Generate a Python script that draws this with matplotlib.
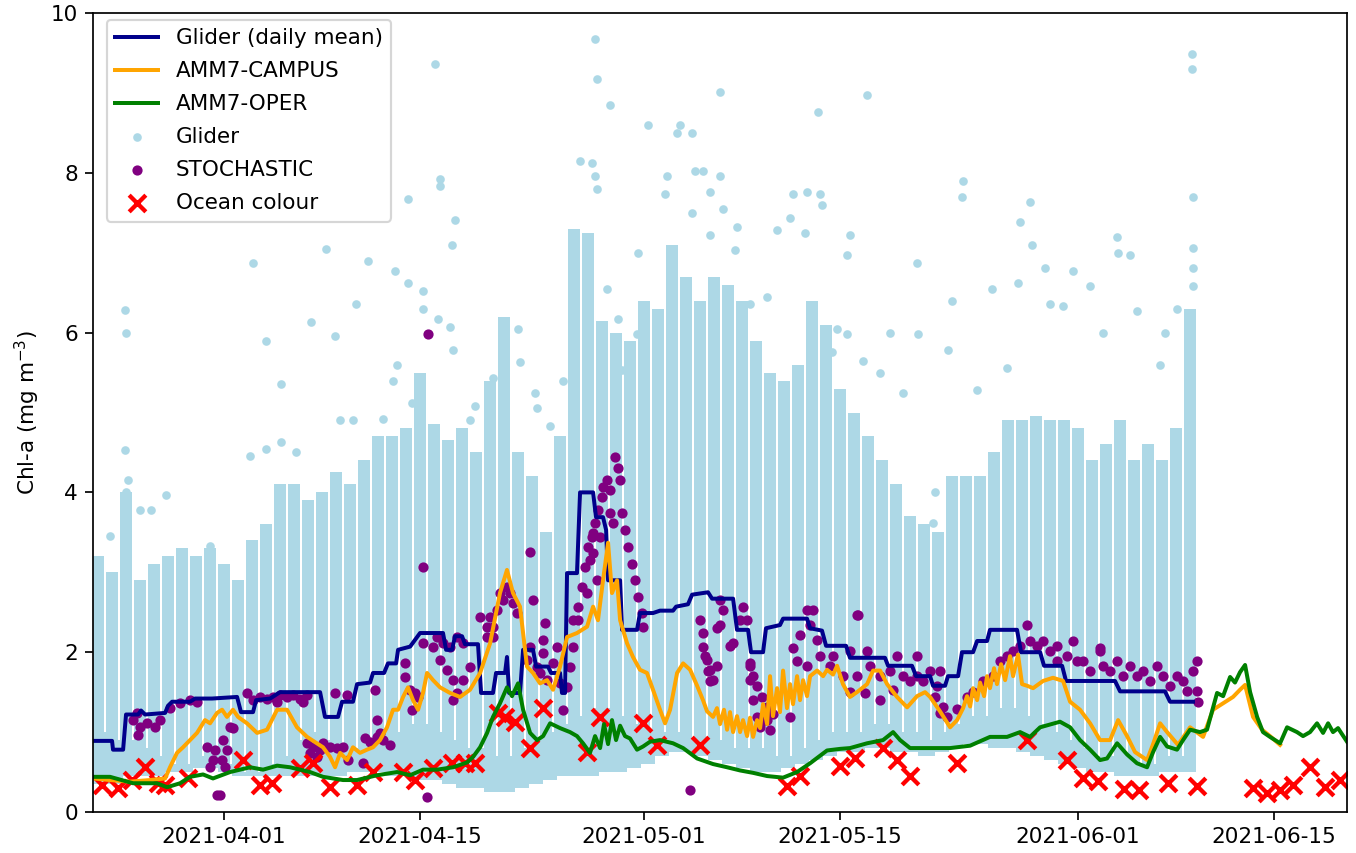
import numpy as np
import pandas as pd
import matplotlib
matplotlib.use("Agg")
import matplotlib.pyplot as plt
import matplotlib.dates as mdates

# all times are days relative to 2021-04-01 00:00
base = mdates.date2num(pd.Timestamp("2021-04-01"))

# --- glider profiles: one night column per day (2021-03-23 .. 2021-06-09)
glider_days = pd.date_range("2021-03-23", "2021-06-09", freq="D")
glider_top = [3.2, 3.0, 4.0, 2.9, 3.1, 3.2, 3.3, 3.2, 3.3,
              3.1, 2.9, 3.4, 3.6, 4.1, 4.1, 3.9, 4.0, 4.25, 4.1, 4.4,
              4.7, 4.7, 4.8, 5.5, 4.85, 4.65, 4.8, 4.5, 5.4, 6.2,
              4.5, 4.2, 3.5, 4.7, 7.3, 7.25, 6.15, 6.0, 5.9, 6.4,
              6.3, 7.1, 6.7, 6.4, 6.7, 6.6, 6.4, 5.9, 5.5, 5.4,
              5.6, 6.4, 6.1, 5.3, 5.0, 4.7, 4.4, 4.1, 3.7, 3.6,
              3.5, 4.2, 4.2, 4.2, 4.5, 4.9, 4.9, 4.95, 4.9, 4.9,
              4.8, 4.4, 4.6, 4.9, 4.4, 4.6, 4.4, 4.8, 6.3]
glider_bottom = [0.35, 0.35, 0.45, 0.45, 0.45, 0.5, 0.5, 0.55, 0.55,
                 0.5, 0.45, 0.45, 0.45, 0.45, 0.45, 0.45, 0.45, 0.45, 0.5, 0.5,
                 0.5, 0.45, 0.45, 0.4, 0.4, 0.35, 0.3, 0.3, 0.25, 0.25,
                 0.3, 0.35, 0.4, 0.45, 0.45, 0.45, 0.5, 0.5, 0.55, 0.6,
                 0.7, 0.75, 0.75, 0.7, 0.65, 0.6, 0.55, 0.5, 0.5, 0.55,
                 0.6, 0.65, 0.7, 0.75, 0.75, 0.8, 0.8, 0.75, 0.75, 0.7,
                 0.75, 0.8, 0.85, 0.85, 0.8, 0.8, 0.75, 0.7, 0.65, 0.6,
                 0.55, 0.5, 0.5, 0.45, 0.45, 0.45, 0.5, 0.5, 0.5]
# daytime (quenched) profiles, between the night columns
glider_day_top = [1.0, 0.9, 0.9, 0.8, 0.7, 0.6, 0.6, 0.7, 0.8,
                  0.6, 0.5, 0.5, 0.6, 0.7, 0.9, 1.0, 0.9, 0.8, 0.8, 0.9,
                  1.0, 1.0, 1.1, 1.1, 1.0, 0.9, 0.8, 0.8, 0.7, 0.7,
                  0.8, 0.9, 1.0, 1.1, 1.2, 1.3, 1.3, 1.2, 1.1, 1.0,
                  1.0, 1.0, 0.9, 0.9, 0.9, 0.8, 0.8, 0.8, 0.7, 0.7,
                  0.8, 0.9, 1.0, 1.0, 1.0, 1.1, 1.1, 1.0, 1.0, 0.9,
                  1.0, 1.1, 1.2, 1.2, 1.3, 1.3, 1.2, 1.1, 1.0, 0.9,
                  0.8, 0.7, 0.7, 0.7, 0.6, 0.6, 0.7, 0.7]

# sparse glider samples above the dense columns
glider_pts_t = [-7.07, -7.0, -7.07, -7.0, -6.86, -6.0, -5.21, -4.14, 2.07, 3.0, 4.07, 4.07,
                6.21, 7.29, 7.93, 8.29, 9.21, 9.43, 10.29, 3.0, 5.14, 1.86, -1.0, -8.14,
                15.07, 15.43, 15.43, 13.14, 16.5, 16.29, 12.21, 13.14, 14.21, 14.21, 15.29,
                16.14, 16.36, 12.36, 12.07, 13.43, 11.36, 17.57, 17.93, 19.21, 21.0, 21.14,
                22.21, 22.36, 23.29, 24.21, 25.43, 26.29, 26.5, 26.64, 27.57, 26.5, 26.64,
                27.36, 28.14, 28.43, 29.57, 30.29, 29.5, 32.36, 32.57, 33.43, 35.43, 33.64,
                34.21, 31.5, 31.64, 33.43, 34.71, 35.43, 35.64, 36.64, 34.71, 36.5, 42.43,
                45.93, 39.5, 40.64, 41.64, 42.57, 42.71, 41.5, 40.43, 44.71, 44.5, 49.5,
                49.57, 47.57, 48.5, 46.86, 45.64, 38.79, 37.57, 43.79, 43.43, 44.5, 52.79,
                52.71, 57.57, 57.71, 56.86, 54.86, 56.71, 58.64, 60.64, 61.86, 63.79, 64.71,
                65.21, 63.86, 69.14, 69.14, 69.21, 69.21, 69.21, 69.21, 52.0, 51.71, 50.79,
                50.64, 67.21, 68.07, 62.79, 59.93, 59.0, 55.93, 53.79, 66.86]
glider_pts_v = [6.28, 6.0, 4.53, 4.0, 4.15, 3.78, 3.78, 3.97, 6.87, 5.9, 5.36, 4.63,
                6.13, 7.05, 5.96, 4.9, 4.9, 6.36, 6.9, 4.54, 4.5, 4.45, 3.33, 3.45,
                9.36, 7.92, 7.83, 7.67, 7.41, 7.1, 6.77, 6.62, 6.52, 6.3, 6.17,
                6.07, 5.78, 5.6, 5.4, 5.12, 4.92, 4.9, 5.08, 5.43, 6.05, 5.63,
                5.24, 5.06, 4.83, 5.4, 8.15, 8.12, 9.67, 9.17, 8.85, 7.96, 7.8,
                6.55, 6.17, 5.53, 7.0, 8.6, 5.98, 8.5, 8.6, 8.5, 9.01, 8.02,
                8.02, 7.73, 7.96, 7.5, 7.76, 7.96, 7.55, 7.32, 7.22, 7.03, 8.76,
                8.97, 7.28, 7.73, 7.76, 7.73, 7.6, 7.25, 7.44, 7.22, 6.97, 6.87,
                5.98, 6.0, 5.24, 5.49, 5.65, 6.45, 6.36, 6.05, 5.76, 5.98, 7.9,
                7.7, 7.64, 7.1, 7.38, 6.55, 6.62, 6.81, 6.77, 6.58, 7.2, 6.97,
                6.27, 7.0, 9.49, 9.3, 7.7, 7.06, 6.81, 6.58, 6.4, 5.78, 4.0,
                3.62, 6.0, 6.3, 6.0, 6.33, 6.36, 5.56, 5.28, 5.6]

# --- glider daily mean
mean_t = [-9.36, -8.0, -7.93, -7.21, -7.0, -6.14, -5.93, -5.64, -4.21, -4.0, -3.71, -2.43,
          -2.07, -0.86, 0.93, 1.21, 2.07, 2.29, 3.29, 4.0, 6.86, 7.21, 8.14, 8.43, 9.21,
          9.5, 10.43, 10.64, 11.43, 11.71, 12.29, 12.43, 13.29, 14.0, 15.64, 15.86, 16.29,
          16.5, 17.0, 17.21, 18.14, 18.36, 19.21, 19.43, 20.07, 20.21, 20.36, 21.14, 21.36,
          22.07, 22.29, 23.14, 23.36, 24.0, 24.14, 24.36, 24.5, 25.21, 25.43, 26.36, 26.57,
          27.07, 27.29, 27.43, 28.29, 28.43, 29.5, 29.71, 30.64, 31.14, 32.07, 32.29, 33.14,
          33.43, 34.57, 34.86, 36.36, 36.64, 37.43, 37.64, 38.5, 38.71, 39.71, 39.93, 41.64,
          41.86, 42.71, 43.0, 44.43, 44.71, 47.21, 47.43, 49.14, 49.43, 50.43, 50.64, 51.5,
          51.71, 52.43, 52.71, 53.5, 53.79, 54.5, 54.71, 56.64, 56.93, 58.29, 58.57, 59.86,
          60.14, 63.64, 64.0, 67.21, 67.57, 69.21]
mean_v = [0.89, 0.89, 0.78, 0.78, 1.22, 1.22, 1.27, 1.22, 1.24, 1.33, 1.38, 1.38,
          1.42, 1.42, 1.44, 1.25, 1.25, 1.40, 1.42, 1.50, 1.50, 1.19, 1.19, 1.38, 1.38,
          1.60, 1.62, 1.74, 1.74, 1.86, 1.86, 2.03, 2.07, 2.24, 2.24, 2.03, 2.03,
          2.20, 2.20, 2.10, 2.10, 1.49, 1.49, 1.74, 1.74, 1.94, 1.49, 1.49, 2.03,
          2.03, 1.82, 1.82, 1.74, 1.74, 1.49, 1.49, 2.99, 2.99, 4.0, 4.0, 3.69,
          3.69, 3.53, 2.90, 2.90, 2.28, 2.28, 2.49, 2.49, 2.52, 2.52, 2.57, 2.60,
          2.72, 2.75, 2.67, 2.67, 2.28, 2.28, 2.0, 2.0, 2.30, 2.34, 2.42, 2.42,
          2.30, 2.27, 2.08, 2.08, 1.93, 1.93, 1.83, 1.83, 1.70, 1.70, 1.58, 1.58,
          1.70, 1.70, 2.0, 2.0, 2.14, 2.14, 2.28, 2.28, 2.0, 2.0, 1.83, 1.83,
          1.64, 1.64, 1.51, 1.51, 1.38, 1.38]

# --- AMM7-CAMPUS
campus_t = [-9.36, -8.14, -6.71, -5.29, -4.21, -3.86, -3.36, -2.93, -2.43, -1.93, -1.36, -1.0,
            -0.5, -0.14, 0.21, 0.64, 1.0, 1.64, 2.36, 3.07, 3.79, 4.5, 5.21, 5.93, 6.64, 7.07,
            7.57, 7.93, 8.29, 8.79, 9.21, 9.71, 10.21, 10.64, 11.14, 11.64, 12.07, 12.43, 12.79,
            13.14, 13.5, 13.86, 14.21, 14.5, 14.93, 15.43, 16.14, 16.86, 17.57, 18.29, 19.0,
            19.71, 20.21, 20.64, 21.14, 21.64, 22.07, 22.57, 23.07, 23.5, 24.0, 24.5, 25.21,
            25.93, 26.36, 26.71, 27.07, 27.43, 27.71, 28.07, 28.29, 28.79, 29.21, 29.71, 30.21,
            30.64, 31.14, 31.5, 31.86, 32.36, 32.79, 33.29, 33.79, 34.21, 34.5, 34.93, 35.21,
            35.43, 35.71, 35.93, 36.14, 36.36, 36.64, 36.86, 37.07, 37.36, 37.57, 37.79, 38.07,
            38.29, 38.5, 38.79, 39.0, 39.21, 39.5, 39.71, 39.93, 40.21, 40.43, 40.64, 40.93,
            41.14, 41.36, 41.64, 41.86, 42.36, 42.79, 43.07, 43.5, 43.79, 44.21, 44.71, 45.21,
            45.93, 46.36, 46.86, 47.36, 48.07, 48.79, 49.5, 50.07, 50.43, 51.14, 51.86, 52.36,
            52.79, 53.07, 53.29, 53.5, 53.79, 54.0, 54.29, 54.5, 54.71, 55.0, 55.21, 55.5,
            55.79, 56.14, 56.36, 56.71, 57.0, 57.36, 57.79, 58.5, 59.21, 59.93, 60.43, 61.14,
            61.86, 62.57, 63.29, 63.86, 64.5, 65.07, 65.93, 66.36, 66.86, 67.36, 68.14, 69.0,
            69.93, 70.64, 71.36, 72.07, 72.57, 72.93, 73.5, 74.14, 74.71, 75.43]
campus_v = [0.42, 0.40, 0.38, 0.40, 0.42, 0.56, 0.74, 0.81, 0.90, 0.99, 1.15, 1.11,
            1.24, 1.28, 1.19, 1.28, 1.19, 1.11, 0.99, 1.03, 1.28, 1.28, 1.06, 0.94, 0.86, 0.81,
            0.69, 0.56, 0.74, 0.65, 0.81, 0.74, 0.78, 0.81, 0.90, 1.06, 1.28, 1.28, 1.44,
            1.56, 1.40, 1.28, 1.49, 1.74, 1.65, 1.56, 1.49, 1.44, 1.53, 1.74, 2.11,
            2.74, 3.03, 2.74, 2.57, 1.82, 1.74, 1.61, 1.65, 1.53, 1.82, 2.19, 2.24,
            2.32, 2.57, 2.40, 2.90, 3.37, 2.74, 2.90, 2.40, 2.11, 1.94, 1.78, 1.74,
            1.53, 1.28, 1.11, 1.28, 1.74, 1.86, 1.78, 1.58, 1.40, 1.26, 1.19, 1.30,
            1.10, 1.28, 1.03, 1.25, 1.00, 1.20, 1.00, 1.15, 0.95, 1.18, 0.94, 1.15,
            1.05, 1.35, 1.10, 1.70, 1.20, 1.55, 1.25, 1.77, 1.30, 1.60, 1.35, 1.70,
            1.40, 1.65, 1.45, 1.70, 1.77, 1.70, 1.78, 1.72, 1.83, 1.60, 1.44, 1.50,
            1.60, 1.77, 1.77, 1.60, 1.44, 1.31, 1.45, 1.50, 1.44, 1.26, 1.06, 1.15,
            1.30, 1.45, 1.32, 1.55, 1.40, 1.62, 1.45, 1.70, 1.55, 1.80, 1.60, 1.85,
            1.65, 1.95, 1.70, 1.97, 1.60, 1.58, 1.55, 1.64, 1.68, 1.64, 1.38, 1.28,
            1.11, 0.90, 0.90, 1.15, 0.95, 0.75, 0.65, 0.85, 1.11, 1.00, 0.84, 1.06,
            0.94, 1.28, 1.36, 1.44, 1.53, 1.59, 1.19, 1.03, 0.95, 0.84]

# --- AMM7-OPER
oper_t = [-9.36, -8.14, -6.5, -4.79, -4.07, -3.14, -2.43, -1.5, -0.79, 0.43, 1.86, 2.79,
          3.79, 4.71, 6.14, 7.07, 8.5, 9.5, 10.93, 12.36, 13.29, 14.21, 15.21, 16.36, 17.36,
          17.79, 18.29, 18.79, 19.21, 19.71, 20.21, 20.57, 21.0, 21.36, 21.86, 22.36, 22.79,
          23.29, 24.0, 24.71, 25.21, 25.64, 26.14, 26.5, 26.86, 27.14, 27.43, 27.71, 28.0,
          28.29, 28.64, 29.0, 29.5, 29.93, 30.43, 31.14, 32.07, 32.79, 33.79, 34.93, 35.93,
          36.86, 37.79, 38.79, 39.93, 40.93, 41.86, 43.07, 44.0, 44.71, 45.93, 47.07, 47.79,
          48.29, 49.0, 50.43, 51.86, 53.29, 54.71, 55.93, 56.86, 57.57, 58.29, 59.71, 60.43,
          61.14, 61.86, 62.57, 63.07, 63.79, 64.5, 65.21, 65.93, 66.36, 66.86, 67.36, 68.07,
          68.5, 69.0, 69.71, 70.21, 70.93, 71.36, 71.86, 72.21, 72.57, 72.93, 73.29, 73.79,
          74.21, 74.71, 75.43, 75.93, 76.64, 77.07, 77.57, 78.07, 78.5, 78.86, 79.21, 79.57,
          80.21]
oper_v = [0.44, 0.44, 0.36, 0.36, 0.31, 0.36, 0.44, 0.47, 0.42, 0.50, 0.56, 0.53,
          0.58, 0.56, 0.50, 0.44, 0.40, 0.40, 0.46, 0.50, 0.46, 0.53, 0.53, 0.56, 0.62,
          0.69, 0.81, 0.99, 1.19, 1.36, 1.56, 1.45, 1.61, 1.28, 0.99, 0.90, 0.95,
          1.11, 1.05, 1.00, 0.95, 0.86, 0.74, 0.95, 0.80, 1.10, 0.85, 1.15, 0.90,
          1.08, 0.95, 0.92, 0.78, 0.82, 0.88, 0.90, 0.86, 0.80, 0.67, 0.60, 0.56,
          0.52, 0.49, 0.45, 0.43, 0.50, 0.61, 0.77, 0.79, 0.80, 0.86, 0.90, 1.00,
          0.90, 0.80, 0.80, 0.80, 0.83, 0.94, 0.94, 1.00, 0.94, 1.06, 1.13, 1.06,
          0.90, 0.78, 0.65, 0.67, 0.86, 0.72, 0.61, 0.56, 0.75, 0.94, 0.82, 0.78,
          0.90, 1.03, 1.00, 1.03, 1.49, 1.45, 1.69, 1.62, 1.75, 1.84, 1.50, 1.19,
          1.00, 0.94, 0.86, 1.06, 1.00, 0.95, 1.00, 1.11, 0.99, 1.11, 1.00, 1.05,
          0.88]

# --- STOCHASTIC ensemble
stoch_t = [-6.5, -6.0, -5.5, -4.93, -4.57, -3.86, -3.14, -2.43, -1.93, -6.14, -6.21, -1.21,
           -0.64, -0.79, -1.0, -0.5, -0.29, -0.07, 0.21, 0.43, 0.64, 0.07, -0.14, 1.64, 2.07,
           2.57, 3.07, 3.5, 4.0, 4.5, 4.93, 5.43, 5.93, 5.64, 3.79, 7.93, 5.93, 6.36, 6.86,
           7.07, 7.57, 8.07, 8.5, 8.86, 6.64, 6.14, 8.79, 10.79, 10.07, 10.43, 10.93, 11.36,
           11.86, 10.93, 11.14, 9.93, 12.93, 12.93, 13.29, 13.43, 13.64, 13.86, 14.21, 14.93,
           14.21, 14.5, 14.57, 15.21, 15.64, 16.14, 16.64, 17.07, 15.43, 15.93, 16.36, 16.64,
           16.36, 17.07, 17.57, 18.29, 19.0, 18.79, 18.79, 19.21, 19.21, 19.71, 20.21, 20.43,
           19.93, 19.5, 20.64, 20.93, 22.07, 21.86, 21.86, 21.64, 22.36, 22.57, 22.79, 22.79,
           22.93, 23.07, 23.79, 23.5, 24.0, 24.21, 24.5, 24.71, 24.93, 24.93, 25.29, 25.57,
           25.79, 26.0, 26.29, 26.5, 26.71, 27.0, 27.07, 27.36, 27.57, 27.93, 28.14, 28.29,
           28.43, 28.64, 28.86, 29.14, 29.36, 29.57, 29.86, 29.93, 26.36, 26.86, 26.36, 26.14,
           27.57, 27.79, 26.64, 25.93, 25.29, 34.0, 34.21, 34.21, 34.5, 34.71, 34.93, 35.21,
           35.43, 35.64, 36.36, 36.86, 37.57, 37.57, 37.79, 38.07, 38.29, 38.79, 33.29, 34.36,
           34.57, 34.71, 35.21, 35.43, 36.14, 37.07, 37.36, 37.57, 37.79, 38.07, 38.43, 38.79,
           39.21, 40.43, 40.64, 40.93, 41.64, 41.86, 41.14, 42.36, 42.57, 41.64, 43.29, 43.5,
           44.71, 44.21, 45.21, 44.71, 45.21, 45.93, 46.14, 46.86, 47.57, 48.07, 48.5, 49.0,
           49.5, 49.5, 49.93, 50.43, 42.07, 45.29, 38.64, 39.0, 45.79, 46.86, 47.79, 50.79,
           51.14, 51.14, 51.36, 51.64, 52.36, 53.07, 53.5, 54.21, 54.93, 55.43, 55.93, 56.36,
           56.86, 57.36, 57.57, 58.07, 58.5, 59.0, 59.5, 59.5, 60.21, 60.64, 60.93, 61.36,
           61.86, 62.57, 62.79, 63.29, 63.79, 64.21, 64.71, 65.21, 65.64, 66.14, 66.64, 67.07,
           67.57, 68.07, 68.5, 68.79, 69.21, 69.5, 69.5, 69.57, 62.57, 50.93]
stoch_v = [1.15, 1.06, 1.11, 1.06, 1.15, 1.30, 1.36, 1.40, 1.38, 0.96, 1.24, 0.81,
           0.78, 0.65, 0.56, 0.21, 0.21, 0.90, 0.78, 1.06, 1.05, 0.56, 0.65, 1.49, 1.40,
           1.44, 1.42, 1.44, 1.46, 1.44, 1.46, 1.42, 1.46, 1.38, 1.38, 1.49, 0.86, 0.81, 0.78,
           0.86, 0.81, 0.80, 0.81, 0.65, 0.69, 0.74, 1.46, 1.53, 0.93, 0.88, 0.94, 0.90,
           0.84, 1.15, 0.99, 0.61, 1.86, 1.69, 1.53, 1.28, 1.49, 1.44, 2.11, 2.07,
           3.07, 0.19, 5.98, 2.19, 2.11, 2.07, 2.19, 2.11, 1.90, 1.78, 1.65, 1.49,
           1.40, 1.65, 1.82, 2.44, 2.44, 2.32, 2.19, 2.32, 2.19, 2.74, 2.82, 2.74,
           2.65, 2.53, 2.61, 2.49, 2.65, 3.25, 2.07, 1.90, 1.82, 1.74, 1.99, 2.15,
           2.36, 1.65, 2.07, 1.86, 1.61, 1.28, 1.56, 1.82, 2.07, 2.40, 2.57, 2.82,
           3.07, 3.32, 3.44, 3.62, 3.78, 3.94, 4.07, 4.16, 4.03, 4.44, 4.30, 4.16,
           3.74, 3.53, 3.32, 3.11, 2.90, 2.69, 2.49, 2.32, 3.49, 3.44, 3.24, 3.15,
           3.74, 3.62, 2.90, 2.74, 2.40, 2.40, 2.24, 2.07, 1.90, 1.78, 1.65, 2.30,
           2.65, 2.53, 2.11, 2.40, 1.86, 1.65, 1.40, 1.19, 1.06, 1.15, 0.28, 1.95,
           1.77, 1.64, 1.83, 2.34, 2.08, 2.57, 2.40, 1.83, 1.70, 1.58, 1.44, 1.31,
           1.23, 1.19, 2.05, 1.89, 2.53, 2.34, 2.22, 2.15, 1.95, 1.83, 1.83, 1.95,
           2.01, 1.70, 2.47, 1.50, 1.70, 2.01, 1.83, 1.70, 1.77, 1.95, 1.70, 1.64,
           1.95, 1.70, 1.64, 1.77, 2.53, 2.47, 1.15, 1.03, 1.49, 1.40, 1.53, 1.44,
           1.24, 1.77, 1.31, 1.19, 1.29, 1.44, 1.50, 1.64, 1.70, 1.89, 1.95, 2.01,
           2.08, 2.34, 2.14, 2.08, 2.14, 2.01, 2.08, 1.89, 1.95, 2.14, 1.89, 1.89,
           1.77, 2.01, 1.83, 1.77, 1.89, 1.70, 1.83, 1.70, 1.77, 1.64, 1.83, 1.70,
           1.58, 1.70, 1.64, 1.51, 1.77, 1.89, 1.51, 1.38, 2.05, 1.58]

# --- Ocean colour (satellite)
oc_t = [-8.71, -7.57, -6.57, -5.64, -4.71, -4.21, -2.57, 1.36, 2.57, 3.43, 5.43, 6.36,
        7.57, 9.5, 10.64, 12.79, 13.64, 14.93, 16.29, 17.21, 17.93, 19.57, 20.07, 20.79,
        21.86, 22.79, 25.93, 26.86, 29.93, 30.93, 34.0, 40.21, 41.14, 44.0, 45.07, 47.07,
        48.07, 49.0, 52.36, 57.36, 60.21, 61.36, 62.43, 64.29, 65.36, 67.43, 69.5, 73.5,
        74.5, 75.43, 76.36, 77.57, 78.64, 79.71]
oc_v = [0.34, 0.30, 0.40, 0.56, 0.36, 0.34, 0.42, 0.65, 0.34, 0.36, 0.55, 0.61,
        0.31, 0.34, 0.50, 0.50, 0.40, 0.55, 0.61, 0.61, 0.61, 1.24, 1.19, 1.13,
        0.80, 1.30, 0.75, 1.19, 1.11, 0.84, 0.84, 0.33, 0.45, 0.57, 0.67, 0.80,
        0.65, 0.45, 0.61, 0.90, 0.65, 0.42, 0.39, 0.29, 0.28, 0.36, 0.33, 0.30,
        0.24, 0.28, 0.34, 0.56, 0.31, 0.40]

tick_labels = ["2021-04-01", "2021-04-15", "2021-05-01", "2021-05-15", "2021-06-01", "2021-06-15"]

fig = plt.figure(figsize=(1357 / 155, 853 / 155), dpi=155)
ax = fig.add_axes([93 / 1357, 1 - 812 / 853, 1254 / 1357, 799 / 853])

gx = mdates.date2num(glider_days)
top = np.array(glider_top)
bot = np.array(glider_bottom)
dtop = np.array(glider_day_top)
ax.bar(gx, top - bot, bottom=bot, width=0.8, color="lightblue", linewidth=0)
ax.bar(gx[:-1] + 0.5, dtop - bot[:-1], bottom=bot[:-1], width=0.5, color="lightblue", linewidth=0)

ax.plot(base + np.array(mean_t), mean_v, color="darkblue", lw=1.85, label="Glider (daily mean)")
ax.plot(base + np.array(campus_t), campus_v, color="orange", lw=1.85, label="AMM7-CAMPUS")
ax.plot(base + np.array(oper_t), oper_v, color="green", lw=1.85, label="AMM7-OPER")

ax.scatter(base + np.array(glider_pts_t), glider_pts_v, s=9, color="lightblue", label="Glider")
ax.scatter(base + np.array(stoch_t), stoch_v, s=14, color="purple", label="STOCHASTIC")
ax.scatter(base + np.array(oc_t), oc_v, s=60, marker="x", color="red", linewidths=2,
           label="Ocean colour")

ax.set_xlim(base - 9.36, base + 80.21)
ax.set_ylim(0, 10)
ax.set_xticks(mdates.datestr2num(tick_labels))
ax.set_xticklabels(tick_labels)
ax.set_ylabel("Chl-a (mg m$^{-3}$)")
ax.legend(loc="upper left", labelspacing=0.6, bbox_to_anchor=(0.0024, 1.005))

fig.savefig("out.png", dpi=155)
